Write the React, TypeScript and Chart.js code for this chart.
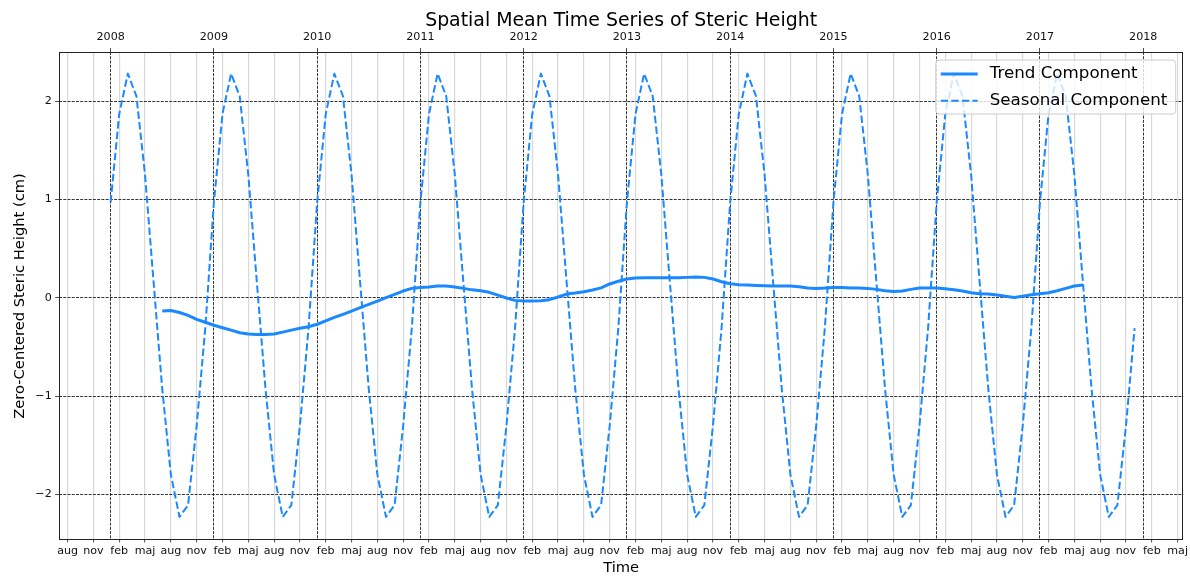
import React, { useEffect, useRef } from 'react';
import { Chart, registerables } from 'chart.js';

Chart.register(...registerables);

const FONT = "'DejaVu Sans', 'Liberation Sans', sans-serif";
const BLUE = '#1a88ff';
const TITLE = 'Spatial Mean Time Series of Steric Height';
const X_TITLE = 'Time';
const Y_TITLE = 'Zero-Centered Steric Height (cm)';

// x values are months counted from January 2008 (0 = Jan 2008)
const seasonalStartMonth = 0;
const seasonalValues = [
  0.97, 1.87, 2.28, 2.05, 1.25, 0.15, -0.93, -1.8, -2.23, -2.11, -1.3, -0.31, // 2008
  0.97, 1.87, 2.28, 2.05, 1.25, 0.15, -0.93, -1.8, -2.23, -2.11, -1.3, -0.31, // 2009
  0.97, 1.87, 2.28, 2.05, 1.25, 0.15, -0.93, -1.8, -2.23, -2.11, -1.3, -0.31, // 2010
  0.97, 1.87, 2.28, 2.05, 1.25, 0.15, -0.93, -1.8, -2.23, -2.11, -1.3, -0.31, // 2011
  0.97, 1.87, 2.28, 2.05, 1.25, 0.15, -0.93, -1.8, -2.23, -2.11, -1.3, -0.31, // 2012
  0.97, 1.87, 2.28, 2.05, 1.25, 0.15, -0.93, -1.8, -2.23, -2.11, -1.3, -0.31, // 2013
  0.97, 1.87, 2.28, 2.05, 1.25, 0.15, -0.93, -1.8, -2.23, -2.11, -1.3, -0.31, // 2014
  0.97, 1.87, 2.28, 2.05, 1.25, 0.15, -0.93, -1.8, -2.23, -2.11, -1.3, -0.31, // 2015
  0.97, 1.87, 2.28, 2.05, 1.25, 0.15, -0.93, -1.8, -2.23, -2.11, -1.3, -0.31, // 2016
  0.97, 1.87, 2.28, 2.05, 1.25, 0.15, -0.93, -1.8, -2.23, -2.11, -1.3, -0.31, // 2017
];

const trendStartMonth = 6; // July 2008
const trendValues = [
  -0.136, -0.13, -0.15, -0.18, -0.22, -0.25, // 2008 Jul-Dec
  -0.28, -0.305, -0.33, -0.356, -0.37, -0.373, -0.373, -0.37, -0.35, -0.33, -0.31, -0.295, // 2009
  -0.27, -0.235, -0.2, -0.17, -0.136, -0.1, -0.068, -0.034, 0.0, 0.034, 0.068, 0.095, // 2010
  0.105, 0.11, 0.12, 0.12, 0.11, 0.095, 0.08, 0.07, 0.055, 0.027, -0.003, -0.027, // 2011
  -0.034, -0.034, -0.03, -0.02, 0.007, 0.037, 0.047, 0.06, 0.078, 0.1, 0.14, 0.168, // 2012
  0.19, 0.2, 0.203, 0.203, 0.203, 0.203, 0.203, 0.207, 0.21, 0.207, 0.19, 0.163, // 2013
  0.142, 0.132, 0.129, 0.125, 0.122, 0.119, 0.119, 0.119, 0.112, 0.1, 0.095, 0.098, // 2014
  0.105, 0.105, 0.1, 0.098, 0.095, 0.085, 0.071, 0.064, 0.068, 0.085, 0.098, 0.1, // 2015
  0.098, 0.092, 0.081, 0.068, 0.051, 0.041, 0.037, 0.027, 0.014, 0.003, 0.014, 0.03, // 2016
  0.041, 0.051, 0.071, 0.095, 0.119, 0.129, // 2017 Jan-Jun
];

const yearTickLabels = ['2008', '2009', '2010', '2011', '2012', '2013', '2014', '2015', '2016', '2017', '2018'];
const monthTickLabels = ['feb', 'maj', 'aug', 'nov'];
const monthTickOffsets = [1, 4, 7, 10];
const yTickValues = [-2, -1, 0, 1, 2];
const yTickLabels = ['\u22122', '\u22121', '0', '1', '2'];

const X_MIN = -6.0;
const X_MAX = 124.65;
const Y_MIN = -2.465;
const Y_MAX = 2.5;

function buildMonthTicks() {
  const ticks: { value: number }[] = [];
  for (let m = Math.ceil(X_MIN); m <= Math.floor(X_MAX); m++) {
    const mm = ((m % 12) + 12) % 12;
    if (monthTickOffsets.indexOf(mm) >= 0) ticks.push({ value: m });
  }
  return ticks;
}

function monthLabel(v: number) {
  const mm = ((Math.round(v) % 12) + 12) % 12;
  const i = monthTickOffsets.indexOf(mm);
  return i >= 0 ? monthTickLabels[i] : '';
}

const mplPlugin = {
  id: 'mplDecor',
  afterDatasetsDraw(chart: any) {
    const { ctx, chartArea: a } = chart;
    ctx.save();
    ctx.strokeStyle = '#222';
    ctx.lineWidth = 1;
    ctx.strokeRect(Math.round(a.left) + 0.5, Math.round(a.top) + 0.5, Math.round(a.right - a.left) - 1, Math.round(a.bottom - a.top) - 1);
    ctx.restore();
  },
  afterDraw(chart: any) {
    const { ctx, chartArea: a } = chart;
    ctx.save();
    // title
    ctx.font = `18.9px ${FONT}`;
    ctx.fillStyle = '#000';
    ctx.textAlign = 'center';
    ctx.textBaseline = 'alphabetic';
    ctx.fillText(TITLE, (a.left + a.right) / 2, 26);

    // legend
    const bw = 240;
    const bh = 54;
    const bx = a.right - 7.5 - bw;
    const by = a.top + 8;
    const r = 3.5;
    ctx.beginPath();
    ctx.moveTo(bx + r, by);
    ctx.lineTo(bx + bw - r, by);
    ctx.arcTo(bx + bw, by, bx + bw, by + r, r);
    ctx.lineTo(bx + bw, by + bh - r);
    ctx.arcTo(bx + bw, by + bh, bx + bw - r, by + bh, r);
    ctx.lineTo(bx + r, by + bh);
    ctx.arcTo(bx, by + bh, bx, by + bh - r, r);
    ctx.lineTo(bx, by + r);
    ctx.arcTo(bx, by, bx + r, by, r);
    ctx.closePath();
    ctx.fillStyle = 'rgba(255,255,255,0.8)';
    ctx.fill();
    ctx.strokeStyle = '#cccccc';
    ctx.lineWidth = 1;
    ctx.stroke();

    const rows = [14, 40.7];
    chart.data.datasets.forEach((ds: any, i: number) => {
      const y = by + rows[i];
      ctx.beginPath();
      ctx.strokeStyle = ds.borderColor;
      ctx.lineWidth = ds.borderWidth;
      ctx.setLineDash(ds.borderDash || []);
      ctx.moveTo(bx + 5, y);
      ctx.lineTo(bx + 42, y);
      ctx.stroke();
      ctx.setLineDash([]);
      ctx.font = `16.7px ${FONT}`;
      ctx.fillStyle = '#000';
      ctx.textAlign = 'left';
      ctx.textBaseline = 'middle';
      ctx.fillText(ds.label, bx + 54, y - 0.5);
    });
    ctx.restore();
  },
};

export default function App() {
  const ref = useRef<HTMLCanvasElement | null>(null);

  useEffect(() => {
    if (!ref.current) return;
    const trendData = trendValues.map((v, i) => ({ x: trendStartMonth + i, y: v }));
    const seasonalData = seasonalValues.map((v, i) => ({ x: seasonalStartMonth + i, y: v }));

    const chart = new Chart(ref.current, {
      type: 'line',
      data: {
        datasets: [
          {
            label: 'Trend Component',
            data: trendData,
            borderColor: BLUE,
            backgroundColor: BLUE,
            borderWidth: 3,
            pointRadius: 0,
            tension: 0,
            borderJoinStyle: 'round',
            borderCapStyle: 'butt',
            fill: false,
            order: 1,
          },
          {
            label: 'Seasonal Component',
            data: seasonalData,
            borderColor: BLUE,
            backgroundColor: BLUE,
            borderWidth: 2,
            borderDash: [7.4, 3.2],
            pointRadius: 0,
            tension: 0,
            borderJoinStyle: 'round',
            borderCapStyle: 'butt',
            fill: false,
            order: 0,
          },
        ],
      },
      options: {
        responsive: false,
        animation: false,
        devicePixelRatio: 1,
        layout: { padding: { left: 0, right: 6, top: 0, bottom: 0 } },
        plugins: {
          legend: { display: false },
          title: { display: false },
          tooltip: { enabled: false },
        },
        scales: {
          x: {
            type: 'linear',
            position: 'bottom',
            min: X_MIN,
            max: X_MAX,
            afterFit: (s: any) => {
              s.height = 36;
            },
            afterBuildTicks: (s: any) => {
              s.ticks = buildMonthTicks();
            },
            grid: {
              color: '#d9d9d9',
              lineWidth: 1.2,
              tickColor: '#222',
              tickLength: 2.5,
              tickWidth: 0.8,
            },
            border: { display: false },
            ticks: {
              autoSkip: false,
              maxRotation: 0,
              minRotation: 0,
              padding: 2,
              color: '#111',
              font: { family: FONT, size: 11.1 },
              callback: (v: any) => monthLabel(Number(v)),
            },
            title: {
              display: true,
              text: X_TITLE,
              color: '#000',
              font: { family: FONT, size: 14.7, lineHeight: 1.0 },
              padding: { top: 0, bottom: 0.5 },
            },
          },
          x2: {
            type: 'linear',
            position: 'top',
            min: X_MIN,
            max: X_MAX,
            afterFit: (s: any) => {
              s.height = 52;
            },
            afterBuildTicks: (s: any) => {
              s.ticks = yearTickLabels.map((_, i) => ({ value: i * 12 }));
            },
            grid: {
              color: '#000',
              lineWidth: 0.8,
              tickColor: '#222',
              tickLength: 4,
              tickWidth: 0.8,
            },
            border: { display: false, dash: [2.96, 1.28] },
            ticks: {
              autoSkip: false,
              maxRotation: 0,
              minRotation: 0,
              padding: 4.6,
              color: '#111',
              font: { family: FONT, size: 11.1 },
              callback: (v: any) => {
                const i = Math.round(Number(v) / 12);
                return yearTickLabels[i] ?? '';
              },
            },
          },
          y: {
            type: 'linear',
            position: 'left',
            min: Y_MIN,
            max: Y_MAX,
            afterFit: (s: any) => {
              s.width = 59;
            },
            afterBuildTicks: (s: any) => {
              s.ticks = yTickValues.map((v) => ({ value: v }));
            },
            grid: {
              color: '#000',
              lineWidth: 0.8,
              tickColor: '#222',
              tickLength: 3.9,
              tickWidth: 0.8,
            },
            border: { display: false, dash: [2.96, 1.28] },
            ticks: {
              autoSkip: false,
              padding: 3.4,
              color: '#111',
              font: { family: FONT, size: 11.1 },
              callback: (v: any) => {
                const i = yTickValues.indexOf(Math.round(Number(v)));
                return i >= 0 ? yTickLabels[i] : '';
              },
            },
            title: {
              display: true,
              text: Y_TITLE,
              color: '#000',
              font: { family: FONT, size: 14.7, lineHeight: 1.2 },
              padding: { top: 11.8, bottom: 0 },
            },
          },
        },
      },
      plugins: [mplPlugin],
    } as any);

    return () => chart.destroy();
  }, []);

  return (
    <div style={{ position: 'absolute', left: 0, top: 0, width: 1190, height: 576, background: '#fff' }}>
      <canvas ref={ref} width={1190} height={576} style={{ width: 1190, height: 576, display: 'block' }} />
    </div>
  );
}
